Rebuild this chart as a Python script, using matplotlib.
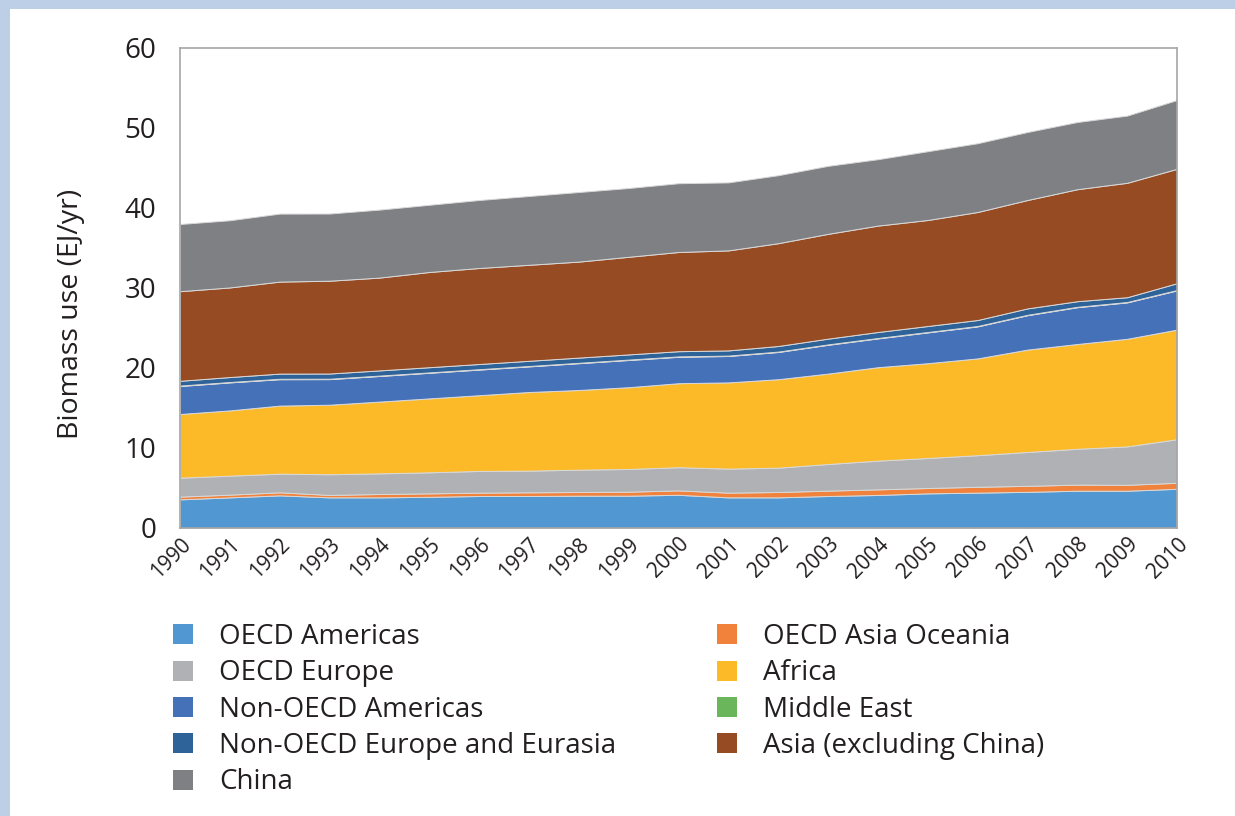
import matplotlib
matplotlib.use("Agg")
import matplotlib.pyplot as plt
from matplotlib.patches import Patch, Rectangle

years = list(range(1990, 2011))

oecd_americas = [3.58, 3.83, 4.08, 3.83, 3.83, 3.90, 4.00, 4.00, 4.04, 4.04, 4.15,
                 3.83, 3.83, 4.00, 4.13, 4.33, 4.42, 4.52, 4.66, 4.66, 4.90]
oecd_asia_oceania = [0.34, 0.34, 0.38, 0.30, 0.42, 0.43, 0.42, 0.46, 0.46, 0.50, 0.55,
                     0.59, 0.67, 0.67, 0.70, 0.67, 0.73, 0.75, 0.76, 0.74, 0.75]
oecd_europe = [2.37, 2.37, 2.33, 2.59, 2.58, 2.63, 2.71, 2.71, 2.79, 2.84, 2.90,
               3.00, 3.04, 3.33, 3.59, 3.75, 3.95, 4.23, 4.48, 4.80, 5.45]
africa = [7.96, 8.16, 8.51, 8.69, 8.97, 9.24, 9.47, 9.83, 9.96, 10.22, 10.50,
          10.78, 11.06, 11.30, 11.68, 11.85, 12.10, 12.80, 13.10, 13.45, 13.70]
non_oecd_americas = [3.50, 3.50, 3.30, 3.20, 3.20, 3.20, 3.20, 3.20, 3.35, 3.40, 3.30,
                     3.30, 3.40, 3.60, 3.60, 3.85, 4.00, 4.30, 4.60, 4.55, 4.90]
middle_east = [0.05] * 21
non_oecd_europe = [0.60, 0.62, 0.65, 0.65, 0.65, 0.65, 0.65, 0.65, 0.65, 0.65, 0.65,
                   0.65, 0.70, 0.72, 0.75, 0.75, 0.75, 0.80, 0.70, 0.60, 0.85]
asia_excl_china = [11.2, 11.2, 11.5, 11.6, 11.6, 11.9, 12.0, 12.0, 12.0, 12.2, 12.4,
                   12.5, 12.85, 13.1, 13.3, 13.25, 13.5, 13.55, 14.0, 14.3, 14.3]
china = [8.4, 8.4, 8.5, 8.4, 8.5, 8.4, 8.5, 8.6, 8.7, 8.6, 8.6,
         8.5, 8.5, 8.5, 8.3, 8.6, 8.6, 8.5, 8.4, 8.4, 8.6]

labels = ["OECD Americas", "OECD Asia Oceania", "OECD Europe", "Africa",
          "Non-OECD Americas", "Middle East", "Non-OECD Europe and Eurasia",
          "Asia (excluding China)", "China"]
series = [oecd_americas, oecd_asia_oceania, oecd_europe, africa, non_oecd_americas,
          middle_east, non_oecd_europe, asia_excl_china, china]
colors = ["#5197D2", "#F1823C", "#B0B1B4", "#FDBA28", "#4571B8",
          "#6AB65A", "#2E6399", "#974B22", "#7F8084"]

plt.rcParams['font.family'] = ['Open Sans', 'DejaVu Sans']

fig = plt.figure(figsize=(12.35, 8.16), dpi=100, facecolor="white")
border = "#BDCFE6"
fig.add_artist(Rectangle((0, (816 - 9) / 816), 1, 9 / 816, transform=fig.transFigure,
                         facecolor=border, edgecolor="none", zorder=-5))
fig.add_artist(Rectangle((0, 0), 10 / 1235, 1, transform=fig.transFigure,
                         facecolor=border, edgecolor="none", zorder=-5))

ax = fig.add_axes([180 / 1235, (816 - 528) / 816, 997 / 1235, 480 / 816])
ax.set_facecolor("white")
ax.stackplot(years, *series, colors=colors, labels=labels,
             edgecolor="#d9d9d9", linewidth=0.7)

ax.set_xlim(1990, 2010)
ax.set_ylim(0, 60)
ax.set_yticks(range(0, 61, 10))
ax.set_xticks(years)
ax.set_xticklabels([str(y) for y in years], rotation=45, ha="right",
                   rotation_mode="anchor", fontsize=15, color="#231f20")
ax.tick_params(axis="y", length=0, pad=17, labelsize=20, labelcolor="#231f20")
ax.tick_params(axis="x", length=0, pad=4)
for s in ax.spines.values():
    s.set_color("#a6a6a6")
    s.set_linewidth(1.2)

ax.set_ylabel("Biomass use (EJ/yr)", fontsize=20.5, color="#231f20")
ax.yaxis.set_label_coords(-0.095, 0.445)

order = [0, 2, 4, 6, 8, 1, 3, 5, 7]
handles = [Patch(facecolor=colors[i], edgecolor="none") for i in order]
fig.legend(handles, [labels[i] for i in order], ncol=2,
           loc="upper left", bbox_to_anchor=(148 / 1235, (816 - 598) / 816),
           frameon=False, fontsize=20, handlelength=0.72, handleheight=0.72,
           handletextpad=0.95, columnspacing=3.6, labelspacing=0.3,
           labelcolor="#231f20")

fig.savefig("out.png", dpi=100)
